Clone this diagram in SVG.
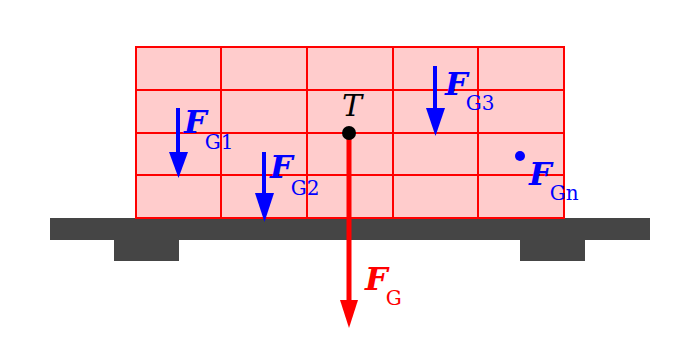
<svg xmlns="http://www.w3.org/2000/svg" width="675" height="362" viewBox="0 0 675 362">
<style>
.grid{stroke:#ff0000;stroke-width:2;fill:none}
.bar{fill:#454545}
.F{font-family:"DejaVu Serif",serif;font-style:italic;font-weight:bold;font-size:32px}
.sub{font-family:"DejaVu Serif",serif;font-size:20px}
.blue{fill:#0000ff}
.red{fill:#ff0000}
</style>
<rect width="675" height="362" fill="#ffffff"/>
<g id="table">
<rect class="bar" x="50" y="218" width="600" height="22"/>
<rect class="bar" x="114" y="240" width="65" height="21"/>
<rect class="bar" x="520" y="240" width="65" height="21"/>
</g>
<g id="body">
<rect x="136" y="47" width="428" height="171" fill="#ffcccc"/>
<path class="grid" d="M136 47H564V218H136Z M221 47V218 M307 47V218 M393 47V218 M478 47V218 M136 90H564 M136 133H564 M136 175H564"/>
</g>
<g id="connectors">
<line x1="349" y1="133" x2="349" y2="302" stroke="#ff0000" stroke-width="5"/>
<polygon points="340,300 358,300 349,328" fill="#ff0000"/>
<line x1="178" y1="108" x2="178" y2="154" stroke="#0000ff" stroke-width="4"/>
<polygon points="169,152 188,152 178.5,178" fill="#0000ff"/>
<line x1="264" y1="152" x2="264" y2="195" stroke="#0000ff" stroke-width="4"/>
<polygon points="255,193 274,193 264.5,222" fill="#0000ff"/>
<line x1="435" y1="66" x2="435" y2="110" stroke="#0000ff" stroke-width="4"/>
<polygon points="426,108 445,108 435.5,136" fill="#0000ff"/>
</g>
<g id="T">
<circle cx="349" cy="133" r="7" fill="#000"/>
<text x="352" y="116" text-anchor="middle" font-family="DejaVu Serif,serif" font-style="italic" font-size="30">T</text>
</g>
<g id="FG"><text class="red" x="365" y="290"><tspan class="F">F</tspan><tspan class="sub" dx="-2" dy="15">G</tspan></text></g>
<g id="FG1"><text class="blue" x="184" y="133"><tspan class="F">F</tspan><tspan class="sub" dx="-2" dy="16">G1</tspan></text></g>
<g id="FG2"><text class="blue" x="270" y="178"><tspan class="F">F</tspan><tspan class="sub" dx="-2" dy="17">G2</tspan></text></g>
<g id="FG3"><text class="blue" x="445" y="95"><tspan class="F">F</tspan><tspan class="sub" dx="-2" dy="15">G3</tspan></text></g>
<g id="FGn">
<circle cx="520" cy="156" r="5" fill="#0000ff"/>
<text class="blue" x="529" y="185"><tspan class="F">F</tspan><tspan class="sub" dx="-2" dy="15">Gn</tspan></text>
</g>
</svg>
